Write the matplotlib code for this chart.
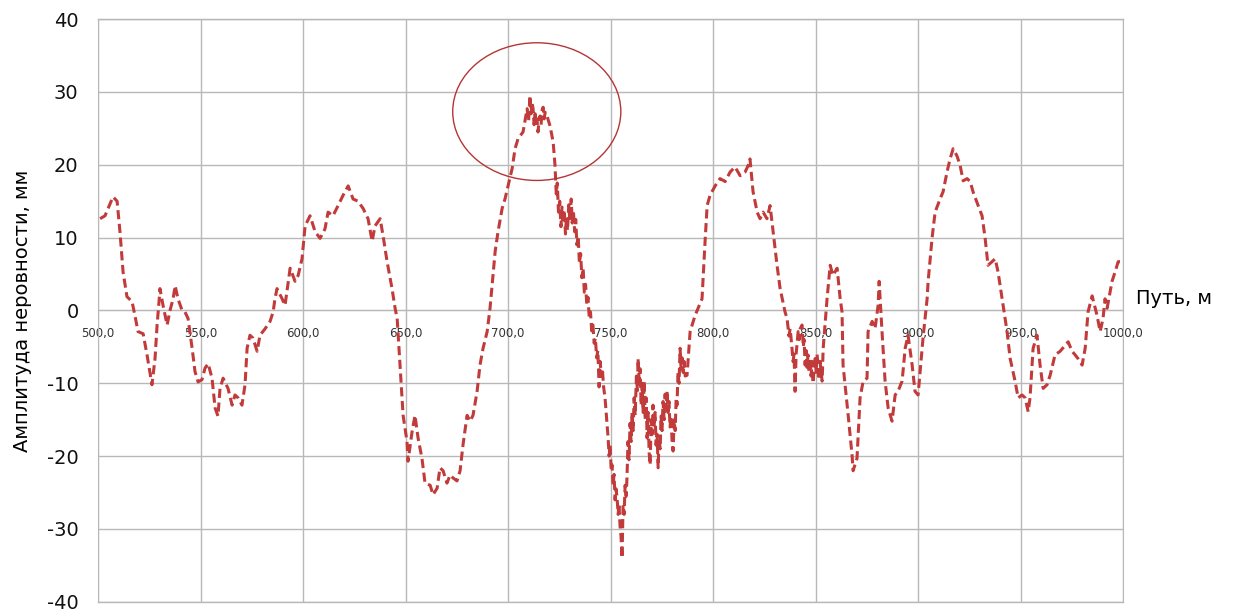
import matplotlib
matplotlib.use('Agg')
from matplotlib import pyplot as plt
from matplotlib.patches import Ellipse


# Profile data (distance in m, amplitude in mm)
path_m = [
    501.0, 503.4, 504.9, 507.3, 509.3, 510.7, 512.2, 514.1, 516.6, 518.0,
    519.5, 522.0, 523.9, 526.3, 527.8, 528.8, 529.8, 530.2, 531.7, 533.7,
    535.1, 536.6, 537.6, 539.0, 541.0, 542.4, 543.9, 545.9, 547.3, 548.8,
    550.7, 552.2, 553.7, 555.6, 557.1, 558.5, 559.5, 561.0, 563.4, 565.4,
    566.8, 568.3, 570.2, 571.7, 572.7, 574.1, 575.6, 577.6, 579.0, 581.5,
    583.9, 585.4, 586.3, 587.3, 589.8, 591.2, 593.7, 596.1, 597.6, 599.5,
    601.0, 603.4, 605.9, 608.3, 610.7, 612.2, 614.6, 617.1, 619.5, 622.0,
    624.4, 626.8, 629.3, 631.7, 633.7, 635.1, 637.6, 639.0, 641.0, 643.4,
    644.9, 645.9, 647.3, 648.8, 650.7, 651.2, 653.2, 654.6, 656.1, 658.0,
    659.5, 662.0, 663.4, 665.4, 666.8, 668.3, 670.2, 671.7, 673.2, 675.1,
    676.6, 678.0, 680.0, 681.5, 682.9, 684.9, 686.3, 687.8, 689.8, 691.2,
    693.7, 695.1, 697.1, 698.5, 700.0, 702.0, 703.4, 704.9, 707.3, 709.3,
    710.0, 710.7, 711.2, 711.7, 712.2, 712.7, 713.2, 713.7, 714.1, 714.6,
    715.1, 715.6, 716.1, 716.6, 717.1, 717.6, 718.1, 719.0, 720.5, 722.0,
    722.9, 723.5, 724.0, 724.6, 725.2, 725.8, 726.3, 726.8, 727.4, 728.0,
    728.5, 729.0, 729.6, 730.2, 730.8, 731.3, 731.9, 732.5, 733.0, 733.6,
    734.2, 734.8, 735.4, 736.0, 736.6, 737.2, 737.8, 738.4, 739.0, 739.6,
    740.2, 740.8, 741.4, 742.0, 742.6, 743.2, 743.8, 744.4, 744.9, 745.5,
    746.0, 746.6, 747.3, 748.0, 748.8, 749.3, 749.8, 750.3, 750.7, 751.2,
    751.7, 752.2, 752.7, 753.2, 753.7, 754.1, 754.6, 755.1, 755.6, 756.1,
    756.6, 757.1, 757.6, 758.0, 758.5, 759.0, 759.5, 760.0, 760.5, 761.0,
    761.5, 762.0, 762.6, 763.1, 763.4, 763.9, 764.4, 764.9, 765.4, 765.9,
    766.4, 766.9, 767.4, 767.8, 768.3, 768.8, 769.3, 769.8, 770.3, 770.7,
    771.2, 771.7, 772.2, 772.7, 773.2, 773.7, 774.2, 774.6, 775.1, 775.6,
    776.1, 776.6, 777.1, 777.6, 778.0, 778.5, 779.0, 779.5, 780.0, 780.5,
    781.0, 781.5, 782.0, 782.4, 782.9, 783.4, 783.9, 784.4, 784.9, 785.4,
    785.9, 786.4, 787.3, 788.8, 791.2, 794.6, 796.1, 797.1, 798.5, 801.0,
    803.4, 805.9, 808.3, 810.7, 813.2, 815.6, 817.1, 818.0, 819.5, 821.5,
    822.9, 824.4, 826.3, 827.8, 829.3, 831.2, 832.7, 835.1, 836.1, 837.0,
    837.6, 838.5, 839.0, 839.5, 840.0, 840.5, 841.0, 841.5, 842.0, 842.5,
    843.4, 844.0, 844.4, 844.9, 845.4, 845.8, 846.3, 846.8, 847.3, 847.8,
    848.3, 848.8, 849.3, 849.8, 850.3, 850.7, 851.2, 851.7, 852.2, 852.7,
    853.2, 853.7, 855.6, 857.1, 858.5, 860.5, 862.0, 862.9, 863.4, 865.9,
    867.8, 868.3, 870.2, 871.7, 873.2, 875.1, 875.6, 877.6, 879.0, 880.5,
    881.0, 882.4, 883.9, 885.4, 887.3, 888.8, 890.2, 892.2, 893.7, 895.1,
    897.1, 898.5, 900.0, 902.4, 904.4, 904.9, 906.8, 908.3, 910.7, 912.2,
    914.1, 915.6, 917.1, 919.0, 920.5, 922.0, 923.9, 925.4, 926.8, 929.3,
    931.2, 932.7, 934.1, 936.1, 937.6, 939.0, 941.0, 942.0, 943.4, 944.9,
    947.3, 948.8, 950.7, 952.2, 953.7, 954.6, 956.1, 958.0, 959.5, 961.0,
    962.9, 964.4, 966.8, 969.3, 971.7, 973.2, 975.1, 976.6, 978.0, 980.0,
    981.5, 982.9, 984.9, 987.3, 988.8, 990.2, 991.2, 992.2, 994.6, 996.1,
    997.6, 1000.0,
]

amplitude_mm = [
    12.6, 13.0, 14.0, 15.6, 15.0, 10.8, 5.3, 1.9, 1.2, -0.7,
    -2.9, -3.2, -6.1, -10.2, -6.6, -2.0, 1.4, 3.0, 0.7, -2.0,
    0.0, 1.6, 3.4, 1.6, 0.0, -0.2, -1.1, -5.2, -8.4, -9.8,
    -9.5, -7.9, -7.3, -9.3, -13.4, -14.5, -10.7, -9.3, -10.7, -13.0,
    -11.6, -12.0, -13.0, -10.2, -5.2, -3.4, -3.8, -5.6, -3.4, -2.5,
    -1.5, -0.2, 1.6, 3.0, 1.6, 0.7, 5.8, 4.0, 4.8, 7.1,
    11.6, 13.0, 10.8, 9.9, 11.2, 13.5, 13.0, 14.4, 15.8, 17.1,
    15.3, 15.0, 14.0, 12.6, 9.5, 11.6, 12.6, 10.3, 6.7, 3.0,
    0.3, -1.1, -7.5, -14.4, -18.0, -20.7, -16.6, -14.4, -17.5, -20.3,
    -23.7, -24.0, -25.3, -24.4, -21.6, -22.0, -23.7, -22.6, -23.0, -23.4,
    -22.0, -18.5, -14.4, -15.2, -14.4, -11.1, -7.5, -5.2, -2.9, 0.3,
    8.1, 10.8, 14.0, 15.3, 17.1, 19.5, 22.2, 23.6, 24.5, 27.7,
    26.0, 29.5, 27.0, 28.5, 27.7, 25.5, 27.0, 25.8, 26.3, 24.5,
    26.0, 26.7, 25.5, 27.5, 27.9, 26.3, 27.2, 26.7, 25.3, 23.1,
    19.9, 16.0, 17.5, 13.5, 15.0, 11.5, 14.2, 12.0, 13.8, 10.5,
    12.8, 11.0, 14.5, 12.2, 15.3, 12.0, 13.5, 10.8, 12.5, 9.0,
    10.2, 6.5, 7.8, 4.5, 5.8, 2.5, 3.6, 0.8, 1.8, -1.0,
    -0.2, -2.8, -2.0, -4.5, -3.8, -6.5, -5.5, -10.5, -7.0, -9.0,
    -8.0, -10.5, -12.0, -14.5, -17.5, -20.0, -18.5, -22.0, -21.2, -24.0,
    -22.5, -26.0, -24.5, -25.8, -28.0, -26.5, -29.5, -31.0, -34.0, -26.7,
    -28.0, -24.0, -25.5, -23.0, -18.0, -20.5, -15.5, -18.0, -14.0, -16.5,
    -12.0, -14.4, -9.0, -11.0, -6.6, -9.5, -8.0, -13.0, -10.0, -14.0,
    -9.7, -15.0, -12.0, -17.5, -14.0, -19.5, -21.2, -15.0, -17.0, -13.0,
    -16.0, -14.0, -18.5, -17.0, -21.6, -17.5, -19.0, -14.5, -16.5, -12.5,
    -15.0, -11.5, -13.5, -11.0, -14.0, -12.5, -16.0, -14.5, -18.0, -19.3,
    -15.0, -16.5, -12.0, -13.0, -8.5, -10.0, -5.2, -8.0, -6.5, -8.5,
    -7.0, -9.0, -8.9, -2.9, -0.7, 1.6, 9.5, 14.4, 15.8, 17.1,
    18.1, 17.7, 19.0, 19.7, 18.5, 19.0, 19.9, 20.8, 16.3, 13.5,
    12.6, 13.5, 12.6, 14.4, 10.8, 6.2, 3.0, -0.2, -1.1, -3.5,
    -2.5, -5.2, -7.0, -6.0, -11.1, -6.0, -4.5, -2.9, -4.0, -2.5,
    -2.0, -5.0, -4.0, -7.5, -5.5, -7.8, -6.1, -8.5, -6.5, -9.0,
    -7.0, -10.0, -7.5, -6.6, -8.5, -6.0, -7.5, -9.5, -7.0, -8.5,
    -9.7, -5.2, 1.6, 6.2, 4.8, 5.8, 1.6, -0.2, -7.5, -14.4,
    -19.9, -22.0, -20.3, -12.0, -9.7, -9.3, -2.9, -1.5, -2.5, 0.7,
    4.0, -2.9, -9.7, -13.4, -15.2, -11.6, -11.1, -9.7, -5.2, -3.4,
    -7.5, -11.1, -11.6, -3.8, 1.6, 4.0, 9.9, 13.5, 15.3, 16.3,
    19.0, 20.8, 22.2, 21.2, 19.9, 17.8, 18.1, 17.7, 16.3, 14.4,
    13.0, 9.9, 6.2, 6.7, 7.1, 5.3, 1.6, -0.2, -2.9, -6.6,
    -9.7, -12.0, -11.6, -12.0, -13.9, -12.0, -5.2, -3.4, -7.5, -10.7,
    -10.2, -8.9, -6.1, -5.6, -4.8, -4.3, -5.6, -6.1, -6.6, -7.5,
    -5.2, -0.2, 2.0, -0.7, -2.9, -1.1, 1.6, 0.3, 4.0, 5.3,
    6.7, 6.7,
]

x_ticks = [500, 550, 600, 650, 700, 750, 800, 850, 900, 950, 1000]
x_tick_labels = ['500,0', '550,0', '600,0', '650,0', '700,0', '750,0',
                 '800,0', '850,0', '900,0', '950,0', '1000,0']
y_ticks = [-40, -30, -20, -10, 0, 10, 20, 30, 40]

grid_color = '#b8b8b8'

plt.rcParams['axes.unicode_minus'] = False

fig = plt.figure(figsize=(12.41, 6.16), dpi=100)
ax = fig.add_axes([0.079, 0.023, 0.826, 0.946])

ax.plot(path_m, amplitude_mm, color='#c23b3b', linewidth=2.2,
        linestyle=(0, (3.0, 1.5)), zorder=3)

# Highlight of the peak
ax.add_patch(Ellipse((714, 27.3), 82, 18.9, fill=False,
                     edgecolor='#b53535', linewidth=1.0, zorder=4))

ax.set_xlim(500, 1000)
ax.set_ylim(-40, 40)
ax.set_xticks(x_ticks)
ax.set_xticklabels(x_tick_labels)
ax.set_yticks(y_ticks)

ax.grid(True, color=grid_color, linewidth=1.0, zorder=0)
ax.axhline(-40, color=grid_color, linewidth=1.0, clip_on=False, zorder=0)
ax.axhline(40, color=grid_color, linewidth=1.0, clip_on=False, zorder=0)

for side in ['top', 'right', 'left']:
    ax.spines[side].set_color(grid_color)
ax.spines['bottom'].set_position(('data', 0))
ax.spines['bottom'].set_color(grid_color)

ax.tick_params(axis='x', length=0, pad=12, labelsize=8.5, labelcolor='#333333')
ax.tick_params(axis='y', length=0, pad=14, labelsize=14, labelcolor='#111111')

ax.set_ylabel('Амплитуда неровности, мм', fontsize=14)
ax.yaxis.set_label_coords(-0.064, 0.5)
ax.text(1.013, 0.52, 'Путь, м', transform=ax.transAxes, fontsize=14,
        ha='left', va='center')

plt.savefig('out.png', dpi=100)
